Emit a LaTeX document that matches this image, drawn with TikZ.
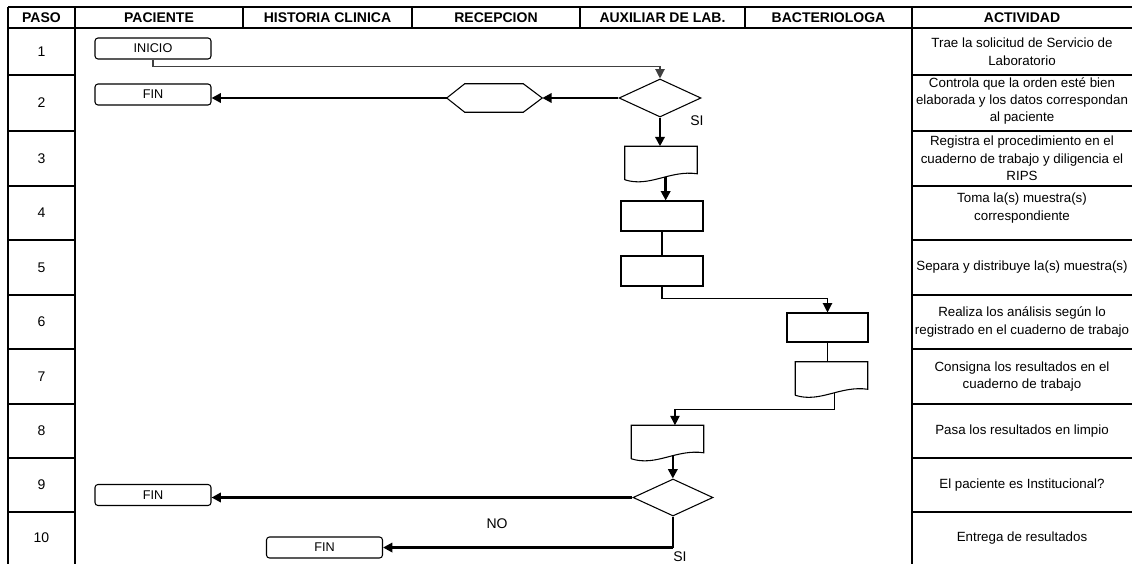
\documentclass[tikz,border=0pt]{standalone}
\usepackage{fontspec}
\setmainfont{Liberation Sans}
\usetikzlibrary{shapes.geometric, arrows.meta, calc}

% one unit = one pixel of a 1132 x 564 sheet, y growing downwards
\newcommand{\docoutline}[1]{%
  \draw[outl] (#1.south west) -- (#1.north west) -- (#1.north east)
    -- ([yshift=4.5pt]#1.south east)
    .. controls ([xshift=33.75pt,yshift=7.5pt]#1.south west)
    and ([xshift=18.75pt,yshift=-6pt]#1.south west) .. (#1.south west);}
\newcommand{\hexoutline}[1]{%
  \draw[outl] (#1.west) -- ([xshift=13.5pt]#1.north west)
    -- ([xshift=-14.25pt]#1.north east) -- (#1.east)
    -- ([xshift=-14.25pt]#1.south east) -- ([xshift=13.5pt]#1.south west) -- cycle;}

\begin{document}
\begin{tikzpicture}[x=0.75pt, y=-0.75pt,
  tableline/.style={line width=1.5pt, black},
  outl/.style={line width=0.8pt, black},
  term/.style={draw, line width=0.8pt, rounded corners=2.25pt, minimum width=87pt,
    minimum height=15.75pt, inner sep=0pt, font=\fontsize{9.5}{11}\selectfont},
  decision/.style={draw, diamond, line width=0.8pt, inner sep=0pt},
  procbox/.style={draw, rectangle, line width=0.8pt, inner sep=0pt,
    minimum width=61.5pt, minimum height=22.5pt},
  docbox/.style={rectangle, inner sep=0pt, minimum width=54pt, minimum height=24.75pt},
  prepbox/.style={rectangle, inner sep=0pt, minimum width=71.25pt, minimum height=21pt},
  thinlink/.style={line width=0.9pt},
  boldlink/.style={line width=1.9pt},
  flowarrow/.style={-{Triangle[length=7pt,width=7pt]}},
  head/.style={font=\bfseries\fontsize{10.5}{12}\selectfont, inner sep=0pt},
  stepnum/.style={font=\fontsize{10.5}{12}\selectfont, inner sep=0pt},
  task/.style={align=center, font=\fontsize{10}{13.1}\selectfont, inner sep=0pt},
  flowlabel/.style={font=\fontsize{10.5}{12}\selectfont, inner sep=0pt},
]
\useasboundingbox (0,0) rectangle (1132,564);

% ---- table frame ----
\draw[tableline] (8,7) -- (1132,7);
\draw[tableline] (8,28) -- (1132,28);
\foreach \x in {8,75,912} \draw[tableline] (\x,7) -- (\x,564);
\foreach \x in {243,412,580,745} \draw[tableline] (\x,7) -- (\x,28);
\foreach \y in {75,131,186,240,295,349,404,458,512} {
  \draw[tableline] (8,\y) -- (75,\y);
  \draw[tableline] (912,\y) -- (1132,\y);
}

% ---- column headings ----
\node[head] (hpaso) at (41.5,17.5) {PASO};
\node[head] (hpac)  at (159,17.5) {PACIENTE};
\node[head] (hhis)  at (327.5,17.5) {HISTORIA CLINICA};
\node[head] (hrec)  at (496,17.5) {RECEPCION};
\node[head] (haux)  at (662.5,17.5) {AUXILIAR DE LAB.};
\node[head] (hbac)  at (828.5,17.5) {BACTERIOLOGA};
\node[head] (hact)  at (1022,17.5) {ACTIVIDAD};

% ---- step numbers ----
\foreach \n/\y in {1/51.5,2/103,3/158.5,4/213,5/267.5,6/322,7/376.5,8/431,9/485,10/538}
  \node[stepnum] (num\n) at (41.5,\y) {\n};

% ---- activities ----
\node[task] (act1)  at (1022,51.5) {Trae la solicitud de Servicio de\\Laboratorio};
\node[task] (act2)  at (1022,101) {Controla que la orden esté bien\\elaborada y los datos correspondan\\al paciente};
\node[task] (act3)  at (1022,158.5) {Registra el procedimiento en el\\cuaderno de trabajo y diligencia el\\RIPS};
\node[task] (act4)  at (1022,208) {Toma la(s) muestra(s)\\correspondiente};
\node[task] (act5)  at (1022,267.5) {Separa y distribuye la(s) muestra(s)};
\node[task] (act6)  at (1022,322) {Realiza los análisis según lo\\registrado en el cuaderno de trabajo};
\node[task] (act7)  at (1022,376.5) {Consigna los resultados en el\\cuaderno de trabajo};
\node[task] (act8)  at (1022,431) {Pasa los resultados en limpio};
\node[task] (act9)  at (1022,485) {El paciente es Institucional?};
\node[task] (act10) at (1022,538) {Entrega de resultados};

% ---- flow nodes ----
\node[term] (inicio) at (153,48.5) {INICIO};
\node[term] (fin1) at (153,94.5) {FIN};
\node[decision, minimum width=61.5pt, minimum height=28.5pt] (dec1) at (660,98) {};
\node[prepbox] (hex1) at (494.5,98) {};
\hexoutline{hex1}
\node[docbox] (doc1) at (661,163) {};
\docoutline{doc1}
\node[procbox] (rect1) at (662,216) {};
\node[procbox] (rect2) at (662,271) {};
\node[procbox, minimum width=60.75pt, minimum height=21.75pt] (rect3) at (827.5,327.5) {};
\node[docbox] (doc2) at (831.5,378.5) {};
\docoutline{doc2}
\node[docbox] (doc3) at (667.5,442) {};
\docoutline{doc3}
\node[decision, minimum width=60pt, minimum height=27.75pt] (dec2) at (673,497.5) {};
\node[term] (fin2) at (153,495) {FIN};
\node[term] (fin3) at (324.5,547.5) {FIN};

% ---- connectors ----
\draw[thinlink, flowarrow, black!75] (inicio.south) -- ++(0,7) -| (dec1.north);
\draw[boldlink, flowarrow] (dec1.west) -- (hex1.east);
\draw[boldlink, flowarrow] (hex1.west) -- (hex1.west -| fin1.east);
\node[flowlabel] (si1) at (697,121) {SI};
\draw[boldlink, flowarrow] (dec1.south) -- (dec1.south |- doc1.north);

\coordinate (d1out) at ($(doc1.south)+(3.5pt,2pt)$);
\draw[boldlink, flowarrow] (d1out) -- (d1out |- rect1.north);
\draw[thinlink] (rect1.south) -- (rect2.north);
\draw[thinlink, flowarrow] (rect2.south) -- ++(0,12) -| (rect3.north);
\draw[thinlink] (rect3.south) -- (rect3.south |- doc2.north);

\coordinate (d2out) at ($(doc2.south)+(2pt,2pt)$);
\coordinate (d3in) at ([xshift=5.6pt]doc3.north);
\coordinate (bend2) at ($(d2out |- d3in)+(0,-16)$);
\draw[thinlink, flowarrow] (d2out) -- (bend2) -| (d3in);

\coordinate (d3out) at ($(doc3.south)+(4pt,2pt)$);
\draw[boldlink, flowarrow] (d3out) -- (d3out |- dec2.north);
\draw[boldlink, flowarrow] (dec2.west) -- (dec2.west -| fin2.east);

\coordinate (c10) at ($(dec2.south)+(0,31)$);
\draw[thinlink] (dec2.south) -- (c10);
\draw[boldlink, flowarrow] (c10) -- (c10 -| fin3.east);
\node[flowlabel] (no2) at (497,524) {NO};
\node[flowlabel] (si2) at (680,557) {SI};
\end{tikzpicture}
\end{document}
